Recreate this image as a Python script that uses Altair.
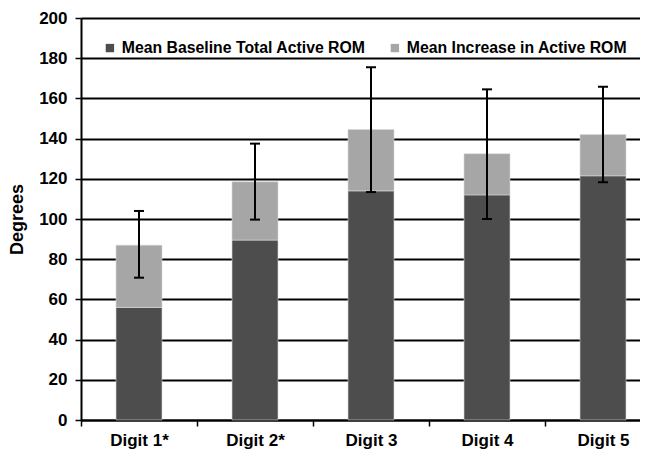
import altair as alt
import pandas as pd

digits = ["Digit 1*", "Digit 2*", "Digit 3", "Digit 4", "Digit 5"]
series = ["Mean Baseline Total Active ROM", "Mean Increase in Active ROM"]
baseline = [56, 89.5, 114, 112, 121.5]
increase = [31, 29, 30.5, 20.5, 20.5]
err_low = [70.8, 99.7, 113.4, 100, 118.3]
err_high = [104, 137.5, 175.5, 164.5, 165.8]
y_ticks = [0, 20, 40, 60, 80, 100, 120, 140, 160, 180, 200]
colors = ["#4d4d4d", "#a6a6a6"]

rows = []
for d, b, inc in zip(digits, baseline, increase):
    rows.append({"digit": d, "series": series[0], "value": b, "ord": 0})
    rows.append({"digit": d, "series": series[1], "value": inc, "ord": 1})
bars_df = pd.DataFrame(rows)
err_df = pd.DataFrame({"digit": digits, "lo": err_low, "hi": err_high})

FONT = "Liberation Sans"

x_enc = alt.X(
    "digit:N",
    sort=digits,
    scale=alt.Scale(range=[0, 580], paddingInner=0, paddingOuter=0),
    axis=alt.Axis(
        title=None, labelAngle=0, tickBand="extent", tickSize=6,
        labelPadding=6, labelFontSize=17, labelFontWeight="bold",
        labelColor="black", domainColor="black", tickColor="black",
        domainWidth=2, tickWidth=1.5, grid=False,
    ),
)

y_scale = alt.Scale(domain=[0, 200], nice=False)

bars = alt.Chart(bars_df).mark_bar(size=46, stroke="#d9d9d9", strokeWidth=0.6).encode(
    x=x_enc,
    y=alt.Y(
        "value:Q",
        stack="zero",
        scale=y_scale,
        axis=alt.Axis(
            title="Degrees", values=y_ticks, grid=True, gridColor="black",
            gridWidth=1.8, gridOpacity=1, tickSize=6, tickWidth=1.5,
            labelPadding=8, domainWidth=2,
            labelFontSize=17, labelFontWeight="bold", labelColor="black",
            domainColor="black", tickColor="black", titleFontSize=18,
            titleFontWeight="bold", titleColor="black", titlePadding=12,
        ),
    ),
    color=alt.Color(
        "series:N",
        scale=alt.Scale(domain=series, range=colors),
        legend=alt.Legend(
            title=None, orient="none", legendX=21, legendY=22,
            direction="horizontal", symbolType="square", symbolSize=70,
            symbolStrokeWidth=0, labelFontSize=15.8, labelFontWeight="bold",
            labelColor="black", labelLimit=400, columnPadding=21,
            labelOffset=4, padding=0,
        ),
    ),
    order=alt.Order("ord:Q"),
)

rule = alt.Chart(err_df).mark_rule(color="black", strokeWidth=2).encode(
    x=alt.X("digit:N", sort=digits),
    y=alt.Y("lo:Q", scale=y_scale),
    y2="hi:Q",
)
tick_lo = alt.Chart(err_df).mark_tick(color="black", size=10, thickness=2, opacity=1).encode(
    x=alt.X("digit:N", sort=digits),
    y=alt.Y("lo:Q", scale=y_scale),
)
tick_hi = alt.Chart(err_df).mark_tick(color="black", size=10, thickness=2, opacity=1).encode(
    x=alt.X("digit:N", sort=digits),
    y=alt.Y("hi:Q", scale=y_scale),
)

chart = (
    alt.layer(bars, rule, tick_lo, tick_hi)
    .properties(
        width=559, height=402,
        autosize=alt.AutoSizeParams(type="none"),
        padding={"left": 73, "top": 10, "right": 0, "bottom": 29},
        background="white",
    )
    .configure_view(stroke=None)
    .configure(font=FONT)
)

chart.save("out.html", embed_options={"renderer": "svg", "actions": False})
